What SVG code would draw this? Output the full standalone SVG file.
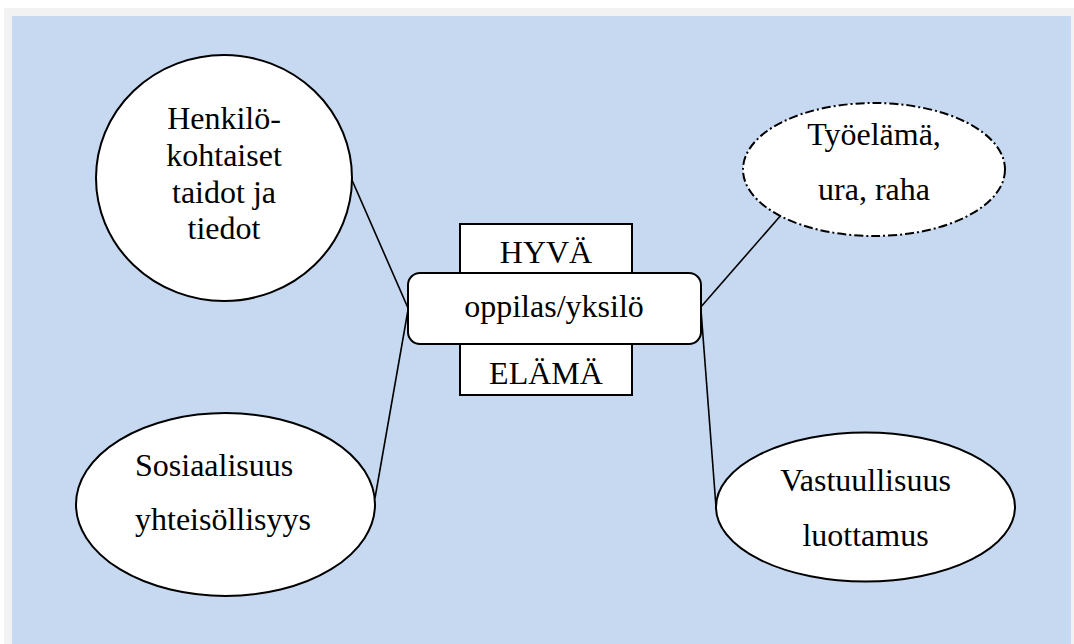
<svg xmlns="http://www.w3.org/2000/svg" width="1074" height="644" viewBox="0 0 1074 644">
  <style>
    .node { fill: #ffffff; stroke: #000000; stroke-width: 2; }
    .dashdot { stroke-dasharray: 9 3 2 3; }
    .conn { stroke: #000000; stroke-width: 1.6; fill: none; }
    text { font-family: "Liberation Serif", "Times New Roman", serif; font-size: 32px; fill: #000000; }
    .c { text-anchor: middle; }
  </style>
  <rect x="0" y="0" width="1074" height="644" fill="#ffffff"/>
  <rect x="4" y="8" width="1070" height="636" fill="#f2f2f2"/>
  <rect x="12" y="16" width="1059" height="628" fill="#c6d9f1"/>

  <g id="connectors">
    <line class="conn" x1="352" y1="180" x2="408" y2="308"/>
    <line class="conn" x1="408" y1="310" x2="375" y2="498"/>
    <line class="conn" x1="782" y1="214" x2="700" y2="308"/>
    <line class="conn" x1="701" y1="310" x2="716" y2="507"/>
  </g>

  <g id="henkilo">
    <ellipse class="node" cx="224" cy="178" rx="128" ry="123"/>
    <text class="c" x="224" y="129">Henkilö-</text>
    <text class="c" x="224" y="166">kohtaiset</text>
    <text class="c" x="224" y="203">taidot ja</text>
    <text class="c" x="224" y="239">tiedot</text>
  </g>

  <g id="sosiaalisuus">
    <ellipse class="node" cx="225.5" cy="504.5" rx="149.5" ry="91.5"/>
    <text x="135" y="476">Sosiaalisuus</text>
    <text x="135" y="530">yhteisöllisyys</text>
  </g>

  <g id="tyoelama">
    <ellipse class="node dashdot" cx="874" cy="169.5" rx="131" ry="66.5"/>
    <text class="c" x="874" y="145">Työelämä,</text>
    <text class="c" x="874" y="200">ura, raha</text>
  </g>

  <g id="vastuullisuus">
    <ellipse class="node" cx="865.5" cy="507" rx="149.5" ry="74.5"/>
    <text class="c" x="865.5" y="491">Vastuullisuus</text>
    <text class="c" x="865.5" y="546">luottamus</text>
  </g>

  <g id="hyva-elama">
    <rect class="node" x="460" y="224" width="172" height="171"/>
    <text class="c" x="546" y="263">HYVÄ</text>
    <text class="c" x="546" y="384">ELÄMÄ</text>
  </g>

  <g id="oppilas">
    <rect class="node" x="408" y="273" width="293" height="71" rx="12" ry="12"/>
    <text class="c" x="554" y="317">oppilas/yksilö</text>
  </g>
</svg>
